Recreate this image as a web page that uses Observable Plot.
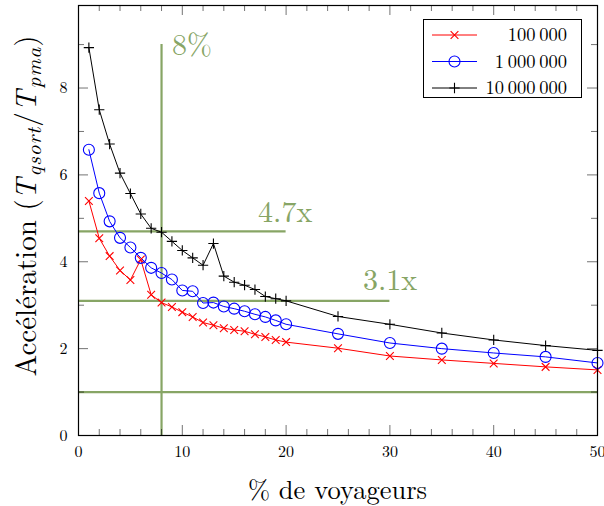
<!DOCTYPE html>
<html><head><meta charset="utf-8">
<script src="https://cdn.jsdelivr.net/npm/d3@7"></script>
<script src="https://cdn.jsdelivr.net/npm/@observablehq/plot@0.6"></script>
<style>
body{margin:0;background:#fff}
#chart{width:604px;height:506px}
</style>
</head><body><div id="chart"></div>
<script>
// ---- data ----
const xs = [1,2,3,4,5,6,7,8,9,10,11,12,13,14,15,16,17,18,19,20,25,30,35,40,45,50];
const s100k = [5.40,4.54,4.13,3.80,3.58,4.05,3.24,3.06,2.96,2.84,2.73,2.60,2.54,2.47,2.43,2.40,2.33,2.27,2.20,2.15,2.01,1.83,1.74,1.66,1.58,1.51];
const s1M   = [6.58,5.58,4.93,4.55,4.33,4.09,3.86,3.74,3.59,3.34,3.32,3.05,3.06,2.97,2.92,2.86,2.79,2.73,2.65,2.56,2.34,2.13,2.00,1.90,1.81,1.67];
const s10M  = [8.93,7.50,6.71,6.04,5.57,5.10,4.77,4.68,4.47,4.26,4.09,3.92,4.42,3.67,3.53,3.46,3.36,3.20,3.15,3.10,2.74,2.56,2.36,2.20,2.07,1.96];
const seriesNames = ["100\u2009000","1\u2009000\u2009000","10\u2009000\u2009000"];
const seriesColors = ["#ff0000","#0000ff","#000000"];
const seriesSymbols = ["times","circle","plus"];
const xTicks = [0,10,20,30,40,50];
const xMinor = [2,4,6,8,12,14,16,18,22,24,26,28,32,34,36,38,42,44,46,48];
const yTicks = [0,2,4,6,8];
const yMinor = [1,3,5,7,9];
const refV = [{x:8, y1:0, y2:9}];
const refH = [{y:4.7, x1:0, x2:20},{y:3.1, x1:0, x2:30},{y:1, x1:0, x2:50}];
const refLabels = [{x:9.0, y:8.76, t:"8%"},{x:17.3, y:4.91, t:"4.7x"},{x:27.4, y:3.34, t:"3.1x"}];
const xLabel = "% de voyageurs";
const green = "#87a565";

// ---- build ----
const FONT = "Latin Modern Roman";
const allSeries = [s100k, s1M, s10M];
const rows = allSeries.flatMap((s, i) => xs.map((x, j) => ({x, y: s[j], series: seriesNames[i]})));

const W = 604, H = 506, mL = 78, mR = 7, mT = 5, mB = 71;
const pw = W - mL - mR, ph = H - mT - mB;
const majorLen = 10, minorLen = 6;

const marks = [
  Plot.ruleX(refV, {x:"x", y1:"y1", y2:"y2", stroke: green, strokeWidth: 2.2}),
  Plot.ruleY(refH, {y:"y", x1:"x1", x2:"x2", stroke: green, strokeWidth: 2.2}),
  Plot.text(refLabels, {x:"x", y:"y", text:"t", textAnchor:"start", lineAnchor:"bottom", fill: green, fontSize: 30, fontFamily: FONT}),
  Plot.line(rows, {x:"x", y:"y", z:"series", stroke:"series", strokeWidth: 1}),
];
seriesNames.forEach((name, i) => {
  const r = seriesSymbols[i] === "circle" ? 5.5 : (seriesSymbols[i] === "plus" ? 3.4 : 3.6);
  marks.push(Plot.dot(rows.filter(d => d.series === name), {x:"x", y:"y", symbol: () => seriesSymbols[i], r, stroke: seriesColors[i], strokeWidth: 1.1, fill: "none"}));
});
// inward ticks on all four sides
marks.push(
  Plot.tickX(xTicks, {x: d => d, insetTop: ph - majorLen, stroke: "#000", strokeOpacity: 0.55}),
  Plot.tickX(xMinor, {x: d => d, insetTop: ph - minorLen, stroke: "#000", strokeOpacity: 0.55}),
  Plot.tickX(xTicks, {x: d => d, insetBottom: ph - majorLen, stroke: "#000", strokeOpacity: 0.55}),
  Plot.tickX(xMinor, {x: d => d, insetBottom: ph - minorLen, stroke: "#000", strokeOpacity: 0.55}),
  Plot.tickY(yTicks, {y: d => d, insetRight: pw - majorLen, stroke: "#000", strokeOpacity: 0.55}),
  Plot.tickY(yMinor, {y: d => d, insetRight: pw - minorLen, stroke: "#000", strokeOpacity: 0.55}),
  Plot.tickY(yTicks, {y: d => d, insetLeft: pw - majorLen, stroke: "#000", strokeOpacity: 0.55}),
  Plot.tickY(yMinor, {y: d => d, insetLeft: pw - minorLen, stroke: "#000", strokeOpacity: 0.55}),
  Plot.frame({stroke: "#000", strokeWidth: 1.2}),
  Plot.axisX({ticks: xTicks, tickSize: 0, tickPadding: 10, label: null, fontSize: 16, fontFamily: FONT}),
  Plot.axisY({ticks: yTicks, tickSize: 0, tickPadding: 11, label: null, fontSize: 16, fontFamily: FONT})
);

const svg = Plot.plot({
  width: W, height: H,
  marginLeft: mL, marginRight: mR, marginTop: mT, marginBottom: mB,
  x: {domain: [0, 50]},
  y: {domain: [0, 9.9]},
  color: {domain: seriesNames, range: seriesColors},
  style: {fontFamily: FONT, fontSize: "16px", color: "#000", background: "#fff"},
  marks
});

const s = d3.select(svg);
// x label
s.append("text").attr("x", mL + pw/2).attr("y", 499).attr("text-anchor", "middle")
  .attr("font-family", FONT).attr("font-size", 26.5).attr("fill", "#000").text(xLabel);
// y label with math
const yl = s.append("text").attr("transform", "translate(36,206) rotate(-90)")
  .attr("text-anchor", "middle").attr("font-family", FONT).attr("font-size", 29).attr("fill", "#000");
yl.append("tspan").text("Accélération (");
yl.append("tspan").attr("font-style", "italic").attr("letter-spacing", 2).text("T");
yl.append("tspan").attr("font-style", "italic").attr("font-size", 21).attr("letter-spacing", 1).attr("dy", 5).text("qsort");
yl.append("tspan").attr("dy", -5).attr("letter-spacing", 1).text("/");
yl.append("tspan").attr("font-style", "italic").attr("letter-spacing", 2).text("T");
yl.append("tspan").attr("font-style", "italic").attr("font-size", 21).attr("letter-spacing", 1).attr("dy", 5).text("pma");
yl.append("tspan").attr("dy", -5).text(")");

// legend
const lg = s.append("g");
lg.append("rect").attr("x", 423.5).attr("y", 19.5).attr("width", 158).attr("height", 78)
  .attr("fill", "#fff").attr("stroke", "#000").attr("stroke-width", 1);
const symMap = {times: d3.symbolTimes, circle: d3.symbolCircle, plus: d3.symbolPlus};
seriesNames.forEach((name, i) => {
  const cy = 35 + i * 26.5;
  lg.append("line").attr("x1", 432).attr("x2", 477).attr("y1", cy).attr("y2", cy)
    .attr("stroke", seriesColors[i]).attr("stroke-width", 1);
  const rr = seriesSymbols[i] === "circle" ? 5.5 : (seriesSymbols[i] === "plus" ? 3.4 : 3.6);
  lg.append("path").attr("transform", `translate(454.5,${cy})`)
    .attr("d", d3.symbol(symMap[seriesSymbols[i]], Math.PI * rr * rr)())
    .attr("fill", "none").attr("stroke", seriesColors[i]).attr("stroke-width", 1.1);
  lg.append("text").attr("x", 567).attr("y", cy).attr("dy", "0.35em").attr("text-anchor", "end")
    .attr("font-family", FONT).attr("font-size", 18.5).attr("fill", "#000").text(name);
});

document.getElementById("chart").appendChild(svg);
</script>
</body></html>
